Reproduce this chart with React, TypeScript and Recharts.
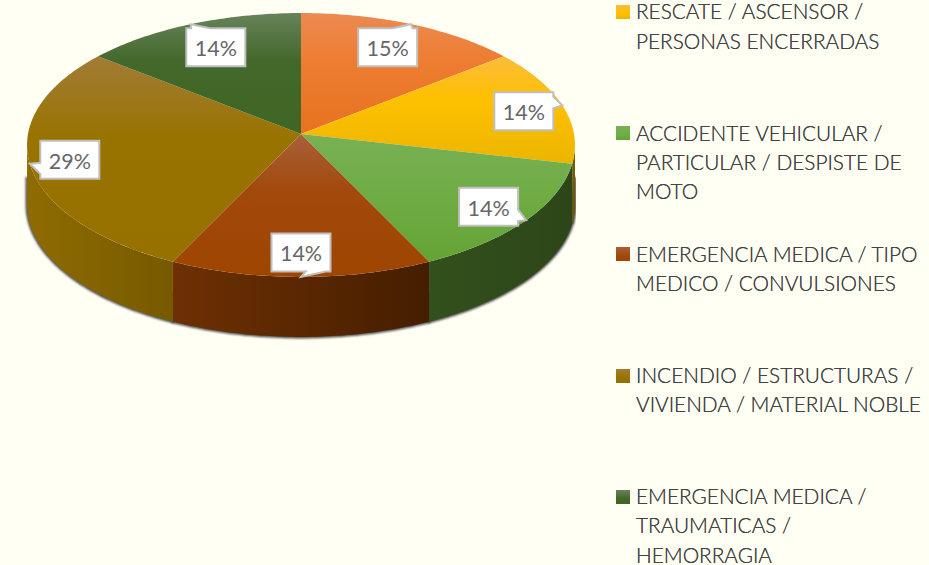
import { Legend, Pie, PieChart } from 'recharts';

const categories = [
  '',
  'RESCATE / ASCENSOR /\nPERSONAS ENCERRADAS',
  'ACCIDENTE VEHICULAR /\nPARTICULAR / DESPISTE DE\nMOTO',
  'EMERGENCIA MEDICA / TIPO\nMEDICO / CONVULSIONES',
  'INCENDIO / ESTRUCTURAS /\nVIVIENDA / MATERIAL NOBLE',
  'EMERGENCIA MEDICA /\nTRAUMATICAS /\nHEMORRAGIA',
];
// slice sizes; the printed labels are rounded differently
const shares = [14.3, 14.3, 14.3, 14.3, 28.6, 14.3];
const percentLabels = ['15%', '14%', '14%', '14%', '29%', '14%'];

const topColors = [
  ['#ec8a52', '#ed7d31', '#e8721f'],
  ['#fabc3c', '#ffc000', '#ebb500'],
  ['#79b054', '#70ad47', '#66a336'],
  ['#a8603a', '#a2490c', '#9e4500'],
  ['#a17c36', '#997300', '#967100'],
  ['#66835a', '#43682b', '#3f6624'],
];
const wallColors = [
  ['#8a4a1e', '#8a4a1e'],
  ['#7c5d00', '#6e5200'],
  ['#32501c', '#2d4619'],
  ['#6e3003', '#451e00'],
  ['#8f6c00', '#765900'],
  ['#2b4219', '#2b4219'],
];
const labelOffsets = [
  [-23.5, 23],
  [-38.5, 6],
  [-37.5, -13.5],
  [0, -24.5],
  [40, -4],
  [25, 23],
];

const chartData = categories.map((name, i) => ({
  name,
  value: shares[i],
  fill: topColors[i][1],
}));

const WIDTH = 929;
const HEIGHT = 565;
const BG = '#fffff4';
const TILT = 0.48; // vertical squash of the disc
const PERSPECTIVE = 0.0833;
const DEPTH = 60;
const BOX_W = 59;
const BOX_H = 38;

// Sector angles (recharts degrees) -> point on the tilted disc
function project(deg: number, cx: number, cy: number, r: number): [number, number] {
  const rad = (deg * Math.PI) / 180;
  const x = Math.cos(rad);
  const y = -Math.sin(rad);
  const w = 1 - PERSPECTIVE * y;
  return [cx + (r * x) / w, cy + (r * TILT * y) / w];
}

function rim(from: number, to: number, cx: number, cy: number, r: number) {
  const steps = Math.max(2, Math.ceil(Math.abs(from - to)));
  const pts: [number, number][] = [];
  for (let i = 0; i <= steps; i++) {
    pts.push(project(from + ((to - from) * i) / steps, cx, cy, r));
  }
  return pts;
}

const line = (pts: [number, number][]) => pts.map((p) => `${p[0].toFixed(2)} ${p[1].toFixed(2)}`).join(' L ');

// Only the front part of the rim shows a wall: between the two widest points of the disc.
// topDrop pushes the upper edge down, the shadow band uses that so it starts lower than the wall.
function wallPath(props: any, topDrop = 0) {
  const { cx, cy, outerRadius, startAngle, endAngle } = props;
  const edge = (Math.asin(PERSPECTIVE) * 180) / Math.PI;
  const from = Math.min(startAngle, -edge);
  const to = Math.max(endAngle, -180 + edge);
  if (from <= to) return null;
  const top = rim(from, to, cx, cy, outerRadius);
  const upper = top.map((p) => [p[0], p[1] + topDrop] as [number, number]);
  const bottom = [...top].reverse().map((p) => [p[0], p[1] + DEPTH] as [number, number]);
  return `M ${line(upper)} L ${line(bottom)} Z`;
}

function ShadowSector(props: any) {
  const d = wallPath(props, 32);
  if (!d) return <g />;
  return (
    <g>
      <defs>
        <filter id={`blur-${props.index}`} x="-10%" y="-10%" width="120%" height="120%">
          <feGaussianBlur stdDeviation="1.3" />
        </filter>
      </defs>
      <path
        d={d}
        fill="#4d4d4d"
        stroke="#4d4d4d"
        strokeWidth={3}
        filter={`url(#blur-${props.index})`}
      />
    </g>
  );
}

function DiscSector(props: any) {
  const { cx, cy, outerRadius, startAngle, endAngle, index } = props;
  const d = wallPath(props);
  const top = rim(startAngle, endAngle, cx, cy, outerRadius);
  const [t0, t1, t2] = topColors[index];
  const [w0, w1] = wallColors[index];
  return (
    <g>
      <defs>
        <linearGradient id={`top-${index}`} x1="0" y1="0" x2="0" y2="1">
          <stop offset="0%" stopColor={t0} />
          <stop offset="40%" stopColor={t1} />
          <stop offset="100%" stopColor={t2} />
        </linearGradient>
        <linearGradient id={`wall-${index}`} x1="0" y1="0" x2="1" y2="0">
          <stop offset="0%" stopColor={w0} />
          <stop offset="100%" stopColor={w1} />
        </linearGradient>
      </defs>
      {d && <path d={d} fill={`url(#wall-${index})`} />}
      <path d={`M ${cx} ${cy} L ${line(top)} Z`} fill={`url(#top-${index})`} />
    </g>
  );
}

// Callout box with a wedge that points at the middle of the slice's rim
function CalloutLabel(props: any) {
  const { cx, cy, outerRadius, midAngle, index } = props;
  const [tipX, tipY] = project(midAngle, cx, cy, outerRadius);
  const bx = tipX + labelOffsets[index][0];
  const by = tipY + labelOffsets[index][1];
  const l = bx - BOX_W / 2;
  const r = bx + BOX_W / 2;
  const t = by - BOX_H / 2;
  const b = by + BOX_H / 2;
  const dx = (tipX - bx) / BOX_W;
  const dy = (tipY - by) / BOX_H;
  let d: string;
  if (Math.abs(dy) > Math.abs(dx)) {
    const a = dx < 0 ? l + BOX_W * 0.08 : l + BOX_W * 0.58;
    const c = dx < 0 ? l + BOX_W * 0.4 : l + BOX_W * 0.92;
    d =
      dy < 0
        ? `M ${l} ${t} L ${a} ${t} L ${tipX} ${tipY} L ${c} ${t} L ${r} ${t} L ${r} ${b} L ${l} ${b} Z`
        : `M ${l} ${t} L ${r} ${t} L ${r} ${b} L ${c} ${b} L ${tipX} ${tipY} L ${a} ${b} L ${l} ${b} Z`;
  } else {
    const a = dy < 0 ? t + BOX_H * 0.12 : t + BOX_H * 0.58;
    const c = dy < 0 ? t + BOX_H * 0.42 : t + BOX_H * 0.88;
    d =
      dx < 0
        ? `M ${l} ${t} L ${r} ${t} L ${r} ${b} L ${l} ${b} L ${l} ${c} L ${tipX} ${tipY} L ${l} ${a} Z`
        : `M ${l} ${t} L ${r} ${t} L ${r} ${a} L ${tipX} ${tipY} L ${r} ${c} L ${r} ${b} L ${l} ${b} Z`;
  }
  return (
    <g>
      <path d={d} fill="#ffffff" stroke="#bfbfbf" strokeWidth={2} />
      <text
        x={bx}
        y={by + 1}
        textAnchor="middle"
        dominantBaseline="central"
        fontFamily="Lato, sans-serif"
        fontSize={21.5}
        fill="#666666"
      >
        {percentLabels[index]}
      </text>
    </g>
  );
}

function LegendList({ payload }: any) {
  return (
    <div style={{ position: 'relative', width: WIDTH, height: HEIGHT, overflow: 'hidden' }}>
      {(payload ?? []).map((item: any) => {
        const i = categories.indexOf(item.value);
        if (!item.value) return null;
        const rowTop = -3.6 + 121.2 * (i - 1);
        return (
          <div key={i}>
            <div
              style={{
                position: 'absolute',
                left: 616,
                top: rowTop + 8.6,
                width: 14,
                height: 14,
                background: `linear-gradient(${topColors[i][0]}, ${topColors[i][1]} 60%, ${topColors[i][2]})`,
              }}
            />
            <div
              style={{
                position: 'absolute',
                left: 636,
                top: rowTop,
                whiteSpace: 'pre',
                fontFamily: 'Lato, sans-serif',
                fontWeight: 300,
                fontSize: 20.8,
                lineHeight: '29.3px',
                color: '#444444',
              }}
            >
              {item.value}
            </div>
          </div>
        );
      })}
    </div>
  );
}

export default function App() {
  return (
    <div
      style={{
        position: 'absolute',
        left: 0,
        top: 0,
        width: WIDTH,
        height: HEIGHT,
        background: BG,
        overflow: 'hidden',
      }}
    >
      <PieChart width={WIDTH} height={HEIGHT} margin={{ top: 0, right: 0, bottom: 0, left: 0 }}>
        <Pie
          data={chartData}
          dataKey="value"
          nameKey="name"
          cx={301}
          cy={134}
          outerRadius={273}
          startAngle={90}
          endAngle={-270}
          legendType="none"
          shape={ShadowSector}
          isAnimationActive={false}
        />
        <Pie
          data={chartData}
          dataKey="value"
          nameKey="name"
          cx={301}
          cy={134}
          outerRadius={273}
          startAngle={90}
          endAngle={-270}
          shape={DiscSector}
          label={CalloutLabel}
          labelLine={false}
          isAnimationActive={false}
        />
        <Legend
          layout="vertical"
          align="right"
          verticalAlign="top"
          content={LegendList}
          wrapperStyle={{ left: 0, top: 0, width: WIDTH, height: HEIGHT }}
        />
      </PieChart>
    </div>
  );
}
